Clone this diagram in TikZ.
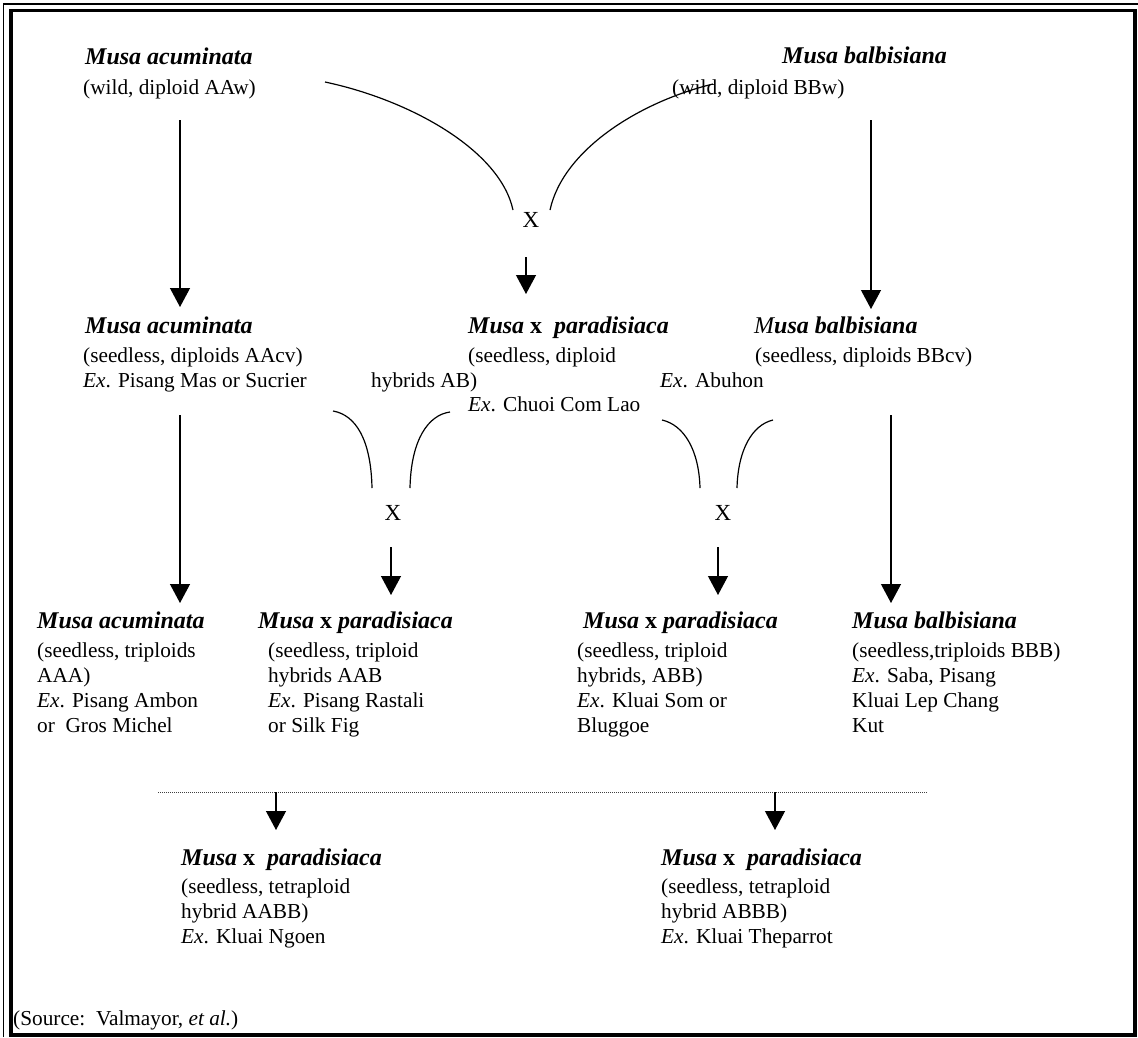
\documentclass[tikz,border=0pt]{standalone}
\usepackage{fontspec}
\setmainfont{Liberation Serif}
\usetikzlibrary{arrows.meta}
\begin{document}
\begin{tikzpicture}[x=1pt,y=-1pt,
  hd/.style={anchor=base west, inner sep=0pt, font=\fontsize{24}{28}\selectfont\bfseries\itshape},
  bd/.style={anchor=base west, inner sep=0pt, align=left, font=\fontsize{21.3}{25}\selectfont},
  cross/.style={anchor=base, inner sep=0pt, font=\fontsize{23}{27}\selectfont},
  arr/.style={line width=1.2pt, -{Triangle[width=20pt,length=19pt]}},
  crv/.style={line width=1.2pt},
  frame/.style={line width=3.5pt},
  thinframe/.style={line width=1.2pt},
  dots/.style={line width=1pt, black!75, dash pattern=on 1pt off 1pt}
]
\useasboundingbox (0,0) rectangle (1138,1037);
% frame
\draw[frame] (11,10.5) rectangle (1135,1035);
\draw[thinframe] (3.3,1037) -- (3.3,4) -- (1138,4);

% top row (multi-line body nodes are placed by the baseline of their last line)
\node[hd] (a1h) at (85,64) {Musa acuminata};
\node[bd] (a1b) at (83,94) {(wild, diploid AAw)};
\node[hd] (b1h) at (782,63) {Musa balbisiana};
\node[bd] (b1b) at (672,94) {(wild, diploid BBw)};
\node[cross] (x1) at (531,227) {X};

% middle row
\node[hd] (a2h) at (85,333) {Musa acuminata};
\node[bd] (a2b) at (83,387) {(seedless, diploids AAcv)\\\textit{Ex}. Pisang Mas or Sucrier};
\node[hd] (m2h) at (468,333) {Musa \textup{x}\ \ paradisiaca};
\node[bd] (m2b) at (468,362) {(seedless, diploid};
\node[bd] (m2c) at (371,387) {hybrids AB)};
\node[bd] (m2d) at (468,411) {\textit{Ex}. Chuoi Com Lao};
\node[hd] (b2h) at (754,333) {{\mdseries M}usa balbisiana};
\node[bd] (b2b) at (755,362) {(seedless, diploids BBcv)};
\node[bd] (b2c) at (660,387) {\textit{Ex}. Abuhon};
\node[cross] (x2) at (393,520) {X};
\node[cross] (x3) at (723,520) {X};

% third row
\node[hd] (c1h) at (37,628) {Musa acuminata};
\node[bd] (c1b) at (37,732) {(seedless, triploids\\AAA)\\\textit{Ex}. Pisang Ambon\\or\ \ Gros Michel};
\node[hd] (c2h) at (258,628) {Musa \textup{x} paradisiaca};
\node[bd] (c2b) at (268,732) {(seedless, triploid\\hybrids AAB\\\textit{Ex}. Pisang Rastali\\or Silk Fig};
\node[hd] (c3h) at (583,628) {Musa \textup{x} paradisiaca};
\node[bd] (c3b) at (577,732) {(seedless, triploid\\hybrids, ABB)\\\textit{Ex}. Kluai Som or\\Bluggoe};
\node[hd] (c4h) at (852,628) {Musa balbisiana};
\node[bd] (c4b) at (852,732) {(seedless,triploids BBB)\\\textit{Ex}. Saba, Pisang\\Kluai Lep Chang\\Kut};

% bottom row
\node[hd] (d1h) at (181,865) {Musa \textup{x}\ \ paradisiaca};
\node[bd] (d1b) at (181,943) {(seedless, tetraploid\\hybrid AABB)\\\textit{Ex}. Kluai Ngoen};
\node[hd] (d2h) at (661,865) {Musa \textup{x}\ \ paradisiaca};
\node[bd] (d2b) at (661,943) {(seedless, tetraploid\\hybrid ABBB)\\\textit{Ex}. Kluai Theparrot};

\node[bd] (src) at (13,1025) {(Source:\ \ Valmayor, \textit{et al.})};

% connector end points
\coordinate (p1s) at (180,120); \coordinate (p1e) at (180,307);
\coordinate (p2s) at (871,120); \coordinate (p2e) at (871,309);
\coordinate (p3s) at (526,257); \coordinate (p3e) at (526,294);
\coordinate (p4s) at (180,415); \coordinate (p4e) at (180,603);
\coordinate (p5s) at (891,415); \coordinate (p5e) at (891,603);
\coordinate (p6s) at (391,547); \coordinate (p6e) at (391,595);
\coordinate (p7s) at (718,547); \coordinate (p7e) at (718,595);
\coordinate (dl) at (158,792); \coordinate (dr) at (928,792);
\coordinate (p8s) at (276,792); \coordinate (p8e) at (276,830);
\coordinate (p9s) at (775,792); \coordinate (p9e) at (775,830);

\draw[arr] (p1s) -- (p1e);
\draw[arr] (p2s) -- (p2e);
\draw[arr] (p3s) -- (p3e);
\draw[arr] (p4s) -- (p4e);
\draw[arr] (p5s) -- (p5e);
\draw[arr] (p6s) -- (p6e);
\draw[arr] (p7s) -- (p7e);
\draw[dots] (dl) -- (dr);
\draw[arr] (p8s) -- (p8e);
\draw[arr] (p9s) -- (p9e);

% crossing curves
\coordinate (k1s) at (325,82);  \coordinate (k1e) at (513,210);
\coordinate (k2s) at (550,210); \coordinate (k2e) at (713,84);
\draw[crv] (k1s) .. controls (410,100) and (500,150) .. (k1e);
\draw[crv] (k2s) .. controls (563,150) and (639,102) .. (k2e);

\coordinate (k3s) at (333,411); \coordinate (k3e) at (372,488);
\coordinate (k4s) at (450,412); \coordinate (k4e) at (410,488);
\coordinate (k5s) at (662,420); \coordinate (k5e) at (700,488);
\coordinate (k6s) at (773,420); \coordinate (k6e) at (737,488);
\draw[crv] (k3s) .. controls (356,415) and (371,440) .. (k3e);
\draw[crv] (k4s) .. controls (428,415) and (411,440) .. (k4e);
\draw[crv] (k5s) .. controls (684,425) and (699,450) .. (k5e);
\draw[crv] (k6s) .. controls (752,425) and (738,450) .. (k6e);
\end{tikzpicture}
\end{document}
